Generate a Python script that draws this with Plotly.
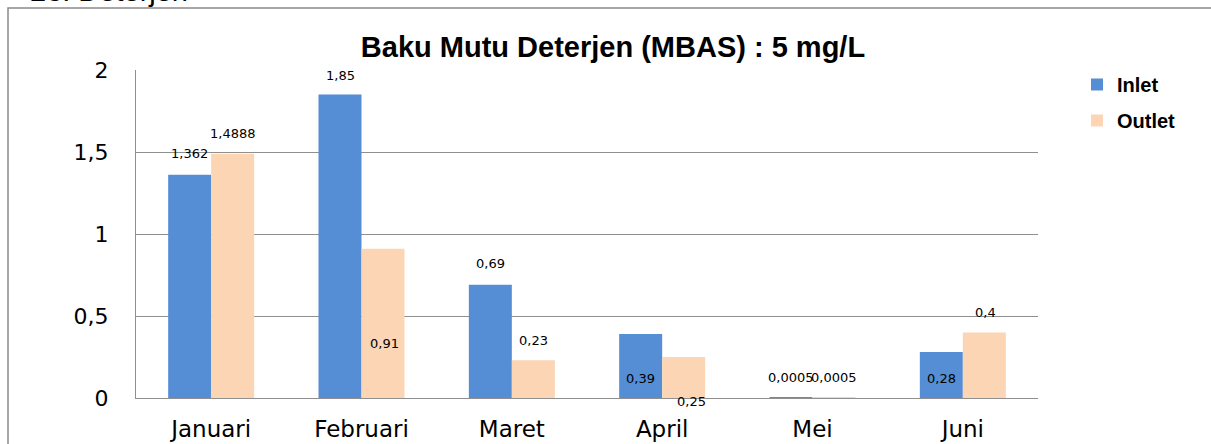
import plotly.graph_objects as go

# ---- data ----
months = ["Januari", "Februari", "Maret", "April", "Mei", "Juni"]
inlet = [1.362, 1.85, 0.69, 0.39, 0.0005, 0.28]
outlet = [1.4888, 0.91, 0.23, 0.25, 0.0005, 0.4]
inlet_labels = ["1,362", "1,85", "0,69", "0,39", "0,0005", "0,28"]
outlet_labels = ["1,4888", "0,91", "0,23", "0,25", "0,0005", "0,4"]
y_ticks = [0, 0.5, 1, 1.5, 2]
y_tick_text = ["0", "0,5", "1", "1,5", "2"]

# ---- style (label offsets in px from bar top) ----
inlet_dy = [21, 19, 21, -44, 20, -26]
outlet_dy = [20, -95, 20, -44, 20, 20]
outlet_dx = [0, 2, 0, 8, 0, 1]

W, H = 1211, 444
ML, MR, MT, MB = 136, 173, 70, 46
PW = W - ML - MR
PH = H - MT - MB

BLUE = "#558ED5"
PEACH = "#FCD5B5"
GRID = "#8f8f8f"

fig = go.Figure()
fig.add_trace(go.Bar(x=months, y=inlet, name="Inlet", marker=dict(color=BLUE, line=dict(width=0)),
                     legendgroup="a"))
fig.add_trace(go.Bar(x=months, y=outlet, name="Outlet", marker=dict(color=PEACH, line=dict(width=0)),
                     legendgroup="b"))

annotations = []
half = 0.572 * PW / len(months) / 4
for i, m in enumerate(months):
    annotations.append(dict(x=m, y=inlet[i], xref="x", yref="y", text=inlet_labels[i],
                            showarrow=False, xshift=-half, yshift=inlet_dy[i],
                            font=dict(family="DejaVu Sans", size=13, color="black")))
    annotations.append(dict(x=m, y=outlet[i], xref="x", yref="y", text=outlet_labels[i],
                            showarrow=False, xshift=half + outlet_dx[i], yshift=outlet_dy[i],
                            font=dict(family="DejaVu Sans", size=13, color="black")))

# partially visible heading at the very top (mostly above the page edge)
annotations.append(dict(x=(28 - ML) / PW, y=1 + (MT + 9) / PH, xref="paper", yref="paper",
                        xanchor="left", yanchor="middle", text="23. Deterjen", showarrow=False,
                        font=dict(family="Liberation Sans", size=29, color="black")))

fig.update_layout(
    width=W, height=H,
    margin=dict(l=ML, r=MR, t=MT, b=MB, autoexpand=False),
    paper_bgcolor="white", plot_bgcolor="white",
    barmode="group", bargap=0.428, bargroupgap=0,
    title=dict(text="<b>Baku Mutu Deterjen (MBAS) : 5 mg/L</b>", x=613 / W, xanchor="center",
               y=1 - 47 / H, yanchor="middle",
               font=dict(family="Liberation Sans", size=29, color="black")),
    legend=dict(x=(1077 - ML) / PW, y=1 - (65 - MT) / PH, xanchor="left", yanchor="top",
                font=dict(family="Liberation Sans", size=20, color="black", weight="bold"),
                tracegroupgap=7, bgcolor="rgba(0,0,0,0)", itemclick=False),
    xaxis=dict(showgrid=False, showline=True, linecolor=GRID, linewidth=1.3, automargin=False,
               tickfont=dict(family="DejaVu Sans", size=23, color="black"),
               ticks="outside", ticklen=10, tickcolor="rgba(0,0,0,0)", fixedrange=True),
    yaxis=dict(range=[0, 2], tickvals=y_ticks, ticktext=y_tick_text, showgrid=True, automargin=False,
               gridcolor=GRID, gridwidth=1.3, showline=True, linecolor=GRID, linewidth=1.3,
               zeroline=False,
               tickfont=dict(family="DejaVu Sans", size=22, color="black"),
               ticks="outside", ticklen=22, tickcolor="rgba(0,0,0,0)", fixedrange=True),
    annotations=annotations,
    shapes=[dict(type="rect", xref="paper", yref="paper",
                 x0=(8 - ML) / PW, x1=1.6, y0=-0.6, y1=1 + (MT - 8) / PH,
                 line=dict(color="#8a8a8a", width=1.5), fillcolor="rgba(0,0,0,0)", layer="below")],
    showlegend=True,
)

fig.write_html("out.html", config={"displayModeBar": False},
               post_script="document.body.style.margin='0';")
